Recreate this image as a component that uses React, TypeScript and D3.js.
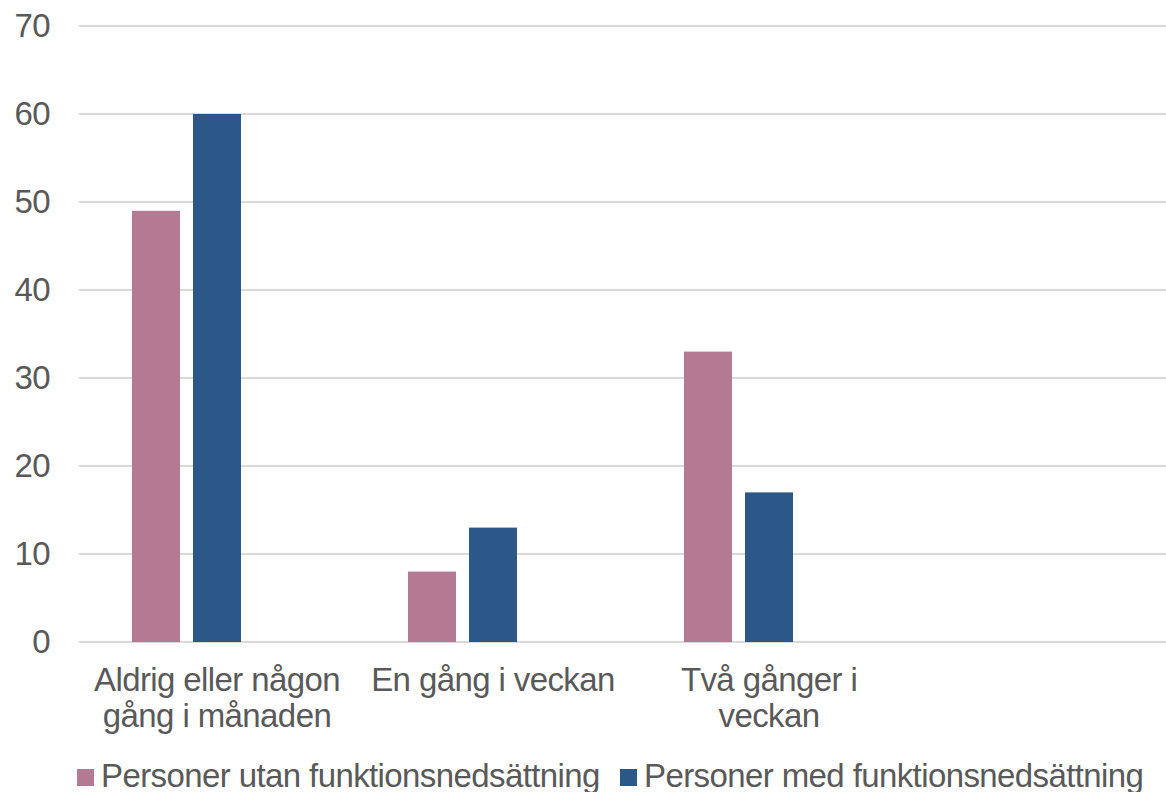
import React from "react";
import * as d3 from "d3";

const categories = [
  ["Aldrig eller någon", "gång i månaden"],
  ["En gång i veckan"],
  ["Två gånger i", "veckan"],
  [],
];
const categoryKeys = ["c1", "c2", "c3", "c4"];
const seriesNames = ["Personer utan funktionsnedsättning", "Personer med funktionsnedsättning", ""];
const seriesKeys = ["utan", "med", "tom"];
const utanValues = [49, 8, 33, null];
const medValues = [60, 13, 17, null];
const yTicks = [0, 10, 20, 30, 40, 50, 60, 70];
const colors = ["#b57a93", "#2b5789", "none"];

const W = 1166;
const H = 792;
const FONT = "'Liberation Sans', Arial, sans-serif";
const TXT = "#595959";
const FS = 33;
const LS = -0.6;

export default function App() {
  const x0 = d3.scaleBand<string>().domain(categoryKeys).range([79, 79 + 276 * 4]).padding(0);
  const x1 = d3
    .scaleBand<string>()
    .domain(seriesKeys)
    .range([0, x0.bandwidth()])
    .paddingInner(13 / 61)
    .paddingOuter(0.869);
  const y = d3.scaleLinear().domain([0, 70]).range([642, 26]);
  const seriesVals = [utanValues, medValues];
  const legendX = [77, 620];

  return (
    <svg
      width={W}
      height={H}
      style={{ position: "absolute", left: 0, top: 0, background: "#fff" }}
      fontFamily={FONT}
    >
      <rect x={0} y={0} width={W} height={H} fill="#fff" />
      {yTicks.map((t) => (
        <g key={t}>
          <line x1={79} x2={W} y1={y(t)} y2={y(t)} stroke="#d9d9d9" strokeWidth={2} />
          <text x={50} y={y(t) + 11} textAnchor="end" fontSize={FS} letterSpacing={LS} fill={TXT}>
            {t}
          </text>
        </g>
      ))}
      {seriesVals.map((vals, si) =>
        vals.map((v, ci) =>
          v == null ? null : (
            <rect
              key={`${si}-${ci}`}
              x={(x0(categoryKeys[ci]) as number) + (x1(seriesKeys[si]) as number)}
              width={x1.bandwidth()}
              y={y(v)}
              height={y(0) - y(v)}
              fill={colors[si]}
            />
          )
        )
      )}
      {categories.map((lines, ci) => {
        const cx = (x0(categoryKeys[ci]) as number) + x0.bandwidth() / 2;
        return (
          <text key={ci} textAnchor="middle" fontSize={FS} letterSpacing={LS} fill={TXT}>
            {lines.map((l, li) => (
              <tspan key={li} x={cx} y={691 + li * 36}>
                {l}
              </tspan>
            ))}
          </text>
        );
      })}
      {[0, 1].map((si) => {
        const lx = legendX[si];
        return (
          <g key={si}>
            <rect x={lx} y={769} width={17} height={17} fill={colors[si]} />
            <text x={lx + 24} y={787} fontSize={FS} letterSpacing={LS} fill={TXT}>
              {seriesNames[si]}
            </text>
          </g>
        );
      })}
    </svg>
  );
}
